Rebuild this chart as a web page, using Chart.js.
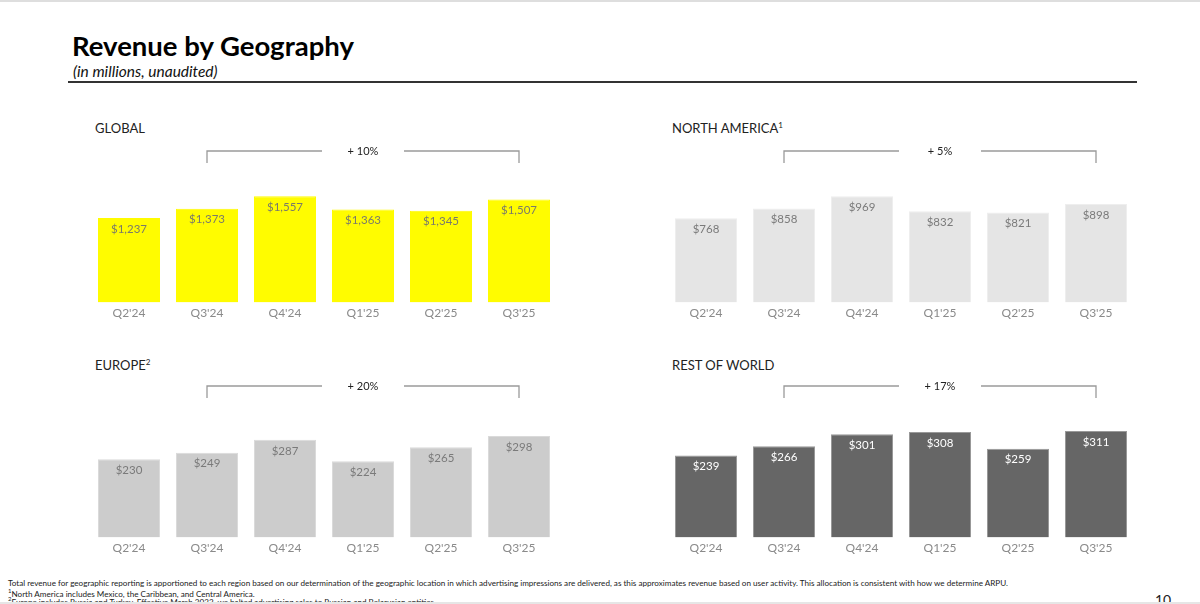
<!DOCTYPE html>
<html>
<head>
<meta charset="utf-8">
<script src="https://cdn.jsdelivr.net/npm/chart.js@4.4.1/dist/chart.umd.min.js"></script>
<style>
  body { margin: 0; width: 1200px; height: 604px; background: #fff; overflow: hidden; position: relative; font-family: Lato, "Noto Sans", sans-serif; }
  .topband { position: absolute; left: 0; top: 0; width: 1200px; height: 2px; background: #dedede; }
  .title { position: absolute; left: 72px; top: 29px; font-size: 27.5px; font-weight: 700; color: #000; }
  .sub { position: absolute; left: 73px; top: 62px; font-size: 15.5px; font-style: italic; color: #111; }
  .rule { position: absolute; left: 68px; top: 81px; width: 1069px; height: 2px; background: #333; }
  .plabel { position: absolute; font-size: 13px; color: #222; }
  .plabel sup { font-size: 8px; }
  .box { position: absolute; }
  .foot { position: absolute; left: 8px; font-size: 8.12px; color: #222; white-space: nowrap; }
  .botband { position: absolute; left: 0; top: 602px; width: 1200px; height: 2px; background: #e6e6e6; }
  .page { position: absolute; left: 1155px; top: 591px; font-size: 14px; color: #222; }
</style>
</head>
<body>
<div class="topband"></div>
<div class="title">Revenue by Geography</div>
<div class="sub">(in millions, unaudited)</div>
<div class="rule"></div>

<div class="plabel" style="left:95px;top:120px">GLOBAL</div>
<div class="plabel" style="left:672px;top:120px">NORTH AMERICA<sup>1</sup></div>
<div class="plabel" style="left:95px;top:357px">EUROPE<sup>2</sup></div>
<div class="plabel" style="left:672px;top:357px">REST OF WORLD</div>

<div class="box" style="left:90px;top:132px;width:468px;height:191px"><canvas id="cGlobal"></canvas></div>
<div class="box" style="left:667px;top:132px;width:468px;height:191px"><canvas id="cNA"></canvas></div>
<div class="box" style="left:90px;top:367px;width:468px;height:191px"><canvas id="cEU"></canvas></div>
<div class="box" style="left:667px;top:367px;width:468px;height:191px"><canvas id="cROW"></canvas></div>

<div class="foot" style="top:578px">Total revenue for geographic reporting is apportioned to each region based on our determination of the geographic location in which advertising impressions are delivered, as this approximates revenue based on user activity. This allocation is consistent with how we determine ARPU.</div>
<div class="foot" style="top:587px"><sup style="font-size:6px">1</sup>North America includes Mexico, the Caribbean, and Central America.</div>
<div class="foot" style="top:595px"><sup style="font-size:6px">2</sup>Europe includes Russia and Turkey. Effective March 2022, we halted advertising sales to Russian and Belarusian entities.</div>
<div class="page">10</div>
<div class="botband"></div>

<script>
const quarters = ["Q2'24", "Q3'24", "Q4'24", "Q1'25", "Q2'25", "Q3'25"];
const globalRevenue = [1237, 1373, 1557, 1363, 1345, 1507];
const northAmericaRevenue = [768, 858, 969, 832, 821, 898];
const europeRevenue = [230, 249, 287, 224, 265, 298];
const restOfWorldRevenue = [239, 266, 301, 308, 259, 311];
const growthLabels = ["+ 10%", "+ 5%", "+ 20%", "+ 17%"];

const FONT = "Lato, 'Noto Sans', sans-serif";

// $ labels inside the top of every bar
const valueLabels = {
  id: "valueLabels",
  afterDatasetsDraw(chart, args, opts) {
    const ctx = chart.ctx;
    const meta = chart.getDatasetMeta(0);
    const values = chart.data.datasets[0].data;
    ctx.save();
    ctx.font = "11.5px " + FONT;
    ctx.fillStyle = opts.color;
    ctx.textAlign = "center";
    ctx.textBaseline = "middle";
    meta.data.forEach((bar, i) => {
      ctx.fillText("$" + values[i].toLocaleString("en-US"), bar.x, bar.y + 11);
    });
    ctx.restore();
  }
};

// growth bracket from Q3'24 to Q3'25
const growthBracket = {
  id: "growthBracket",
  afterDraw(chart, args, opts) {
    const ctx = chart.ctx;
    const x = chart.scales.x;
    const x1 = x.getPixelForValue(1);
    const x2 = x.getPixelForValue(5);
    const mid = (x1 + x2) / 2;
    const y = chart.chartArea.top - 1;
    ctx.save();
    ctx.strokeStyle = "#9a9a9a";
    ctx.lineWidth = 1.3;
    ctx.beginPath();
    ctx.moveTo(x1, y + 12); ctx.lineTo(x1, y); ctx.lineTo(mid - 41, y);
    ctx.moveTo(mid + 41, y); ctx.lineTo(x2, y); ctx.lineTo(x2, y + 12);
    ctx.stroke();
    ctx.font = "11px " + FONT;
    ctx.fillStyle = "#222";
    ctx.textAlign = "center";
    ctx.textBaseline = "middle";
    ctx.fillText(opts.text, mid, y);
    ctx.restore();
  }
};

function panel(id, values, max, color, border, labelColor, growth) {
  new Chart(document.getElementById(id), {
    type: "bar",
    data: {
      labels: quarters,
      datasets: [{
        data: values,
        backgroundColor: color,
        borderColor: border,
        borderWidth: 1,
        categoryPercentage: 1,
        barPercentage: 0.795
      }]
    },
    options: {
      responsive: true,
      maintainAspectRatio: false,
      animation: false,
      layout: { padding: { top: 20 } },
      plugins: {
        legend: { display: false },
        tooltip: { enabled: false },
        valueLabels: { color: labelColor },
        growthBracket: { text: growth }
      },
      scales: {
        x: {
          grid: { display: false, drawTicks: false },
          border: { display: false },
          ticks: { padding: 3, color: "#8a8a8a", font: { family: FONT, size: 12 } }
        },
        y: { display: false, min: 0, max: max }
      }
    },
    plugins: [valueLabels, growthBracket]
  });
}

panel("cGlobal", globalRevenue, 2203, "#FFFC00", "#FFFC00", "#7a7a6a", growthLabels[0]);
panel("cNA", northAmericaRevenue, 1373, "#E5E5E5", "#EEEEEE", "#7a7a7a", growthLabels[1]);
panel("cEU", europeRevenue, 442, "#CCCCCC", "#DADADA", "#7a7a7a", growthLabels[2]);
panel("cROW", restOfWorldRevenue, 439, "#666666", "#999999", "#ffffff", growthLabels[3]);
</script>
</body>
</html>
